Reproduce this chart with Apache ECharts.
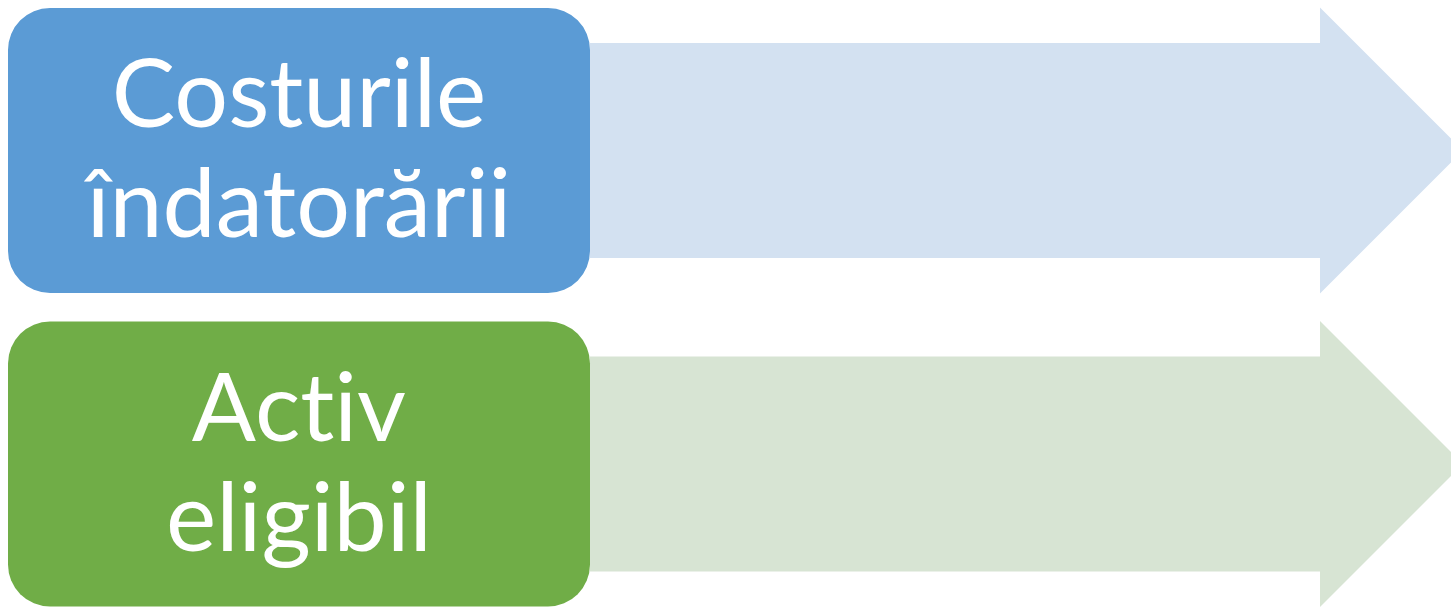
<!DOCTYPE html>
<html><head><meta charset="utf-8">
<style>html,body{margin:0;padding:0;background:#fff;}#c{width:1451px;height:607px;}</style>
<script src="https://cdn.jsdelivr.net/npm/echarts@6/dist/echarts.min.js"></script>
</head><body><div id="c"></div>
<script>
// Rows of the diagram (top to bottom)
const categories = ['Costurile\nîndatorării', 'Act\u200Civ\neligibil'];
const rowIndex   = [0, 1];
const boxStart   = [8, 8];
const boxEnd     = [590, 590];
const headStart  = [1320, 1320];
const arrowTip   = [1463, 1463];
const boxColors   = ['#5B9BD5', '#70AD47'];
const arrowColors = ['#D3E1F1', '#D7E4D3'];

const chart = echarts.init(document.getElementById('c'), null, {renderer: 'canvas'});
const data = categories.map((c, i) => [rowIndex[i], boxStart[i], boxEnd[i], headStart[i], arrowTip[i]]);

chart.setOption({
  animation: false,
  grid: {left: 0, right: 0, top: 0, bottom: 0},
  xAxis: {type: 'value', min: 0, max: 1451, show: false},
  yAxis: {type: 'value', min: -0.48006, max: 1.45614, inverse: true, show: false},
  series: [{
    type: 'custom',
    clip: false,
    data: data,
    encode: {x: [1, 2, 3, 4], y: 0},
    renderItem: function (params, api) {
      const i = api.value(0);
      const band = api.size([0, 1])[1];
      const c = api.coord([api.value(1), i]);
      const cy = c[1];
      const x0 = c[0];
      const x1 = api.coord([api.value(2), i])[0];
      const xh = api.coord([api.value(3), i])[0];
      const xt = api.coord([api.value(4), i])[0];
      const boxH = band * 0.909;
      const bodyH = band * 0.686;
      const headH = band * 0.912;
      return {
        type: 'group',
        children: [
          {
            type: 'polygon',
            shape: {points: [
              [x1, cy - bodyH / 2], [xh, cy - bodyH / 2], [xh, cy - headH / 2],
              [xt, cy], [xh, cy + headH / 2], [xh, cy + bodyH / 2], [x1, cy + bodyH / 2]
            ]},
            style: {fill: arrowColors[i]}
          },
          {
            type: 'rect',
            shape: {x: x0, y: cy - boxH / 2, width: x1 - x0, height: boxH, r: 42},
            style: {fill: boxColors[i]}
          },
          {
            type: 'text',
            style: {
              text: categories[i],
              x: (x0 + x1) / 2,
              y: cy + 1,
              align: 'center',
              verticalAlign: 'middle',
              fill: '#ffffff',
              font: '95px Lato',
              lineHeight: 110
            }
          }
        ]
      };
    }
  }]
});
</script></body></html>
